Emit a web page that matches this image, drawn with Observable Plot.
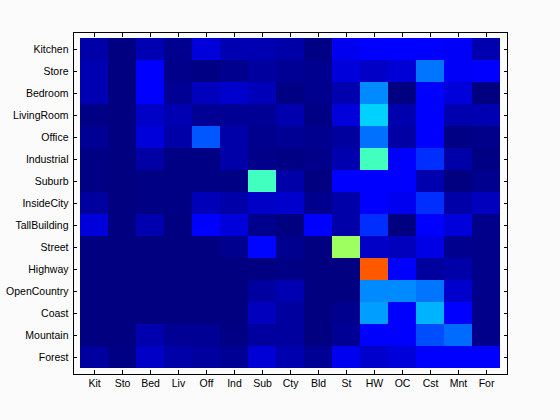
<!DOCTYPE html>
<html>
<head>
<meta charset="utf-8">
<script src="https://cdn.jsdelivr.net/npm/d3@7"></script>
<script src="https://cdn.jsdelivr.net/npm/@observablehq/plot@0.6"></script>
<style>
  html, body { margin: 0; padding: 0; background: #fbfbfb; }
  #chart svg rect { shape-rendering: crispEdges; }
</style>
</head>
<body>
<div id="chart"></div>
<script>
// True classes (rows) and predicted class abbreviations (columns)
const classes = ["Kitchen","Store","Bedroom","LivingRoom","Office","Industrial","Suburb","InsideCity","TallBuilding","Street","Highway","OpenCountry","Coast","Mountain","Forest"];
const abbrevs = ["Kit","Sto","Bed","Liv","Off","Ind","Sub","Cty","Bld","St","HW","OC","Cst","Mnt","For"];

// Confusion values per row
const kitchen     = [0.04,0.00,0.05,0.015,0.09,0.05,0.05,0.04,0.005,0.11,0.125,0.125,0.125,0.12,0.045];
const store       = [0.05,0.00,0.125,0.01,0.005,0.015,0.03,0.02,0.015,0.09,0.07,0.085,0.24,0.12,0.125];
const bedroom     = [0.05,0.00,0.125,0.02,0.06,0.075,0.055,0.005,0.015,0.045,0.26,0.00,0.125,0.09,0.00];
const livingRoom  = [0.005,0.00,0.07,0.05,0.02,0.02,0.02,0.045,0.005,0.09,0.33,0.045,0.125,0.045,0.05];
const office      = [0.02,0.00,0.09,0.04,0.21,0.04,0.015,0.02,0.015,0.03,0.235,0.035,0.125,0.005,0.01];
const industrial  = [0.005,0.00,0.035,0.005,0.005,0.04,0.01,0.005,0.01,0.045,0.4375,0.125,0.17,0.04,0.005];
const suburb      = [0.005,0.00,0.005,0.005,0.005,0.005,0.4375,0.04,0.00,0.125,0.125,0.125,0.045,0.00,0.015];
const insideCity  = [0.03,0.00,0.005,0.005,0.055,0.04,0.07,0.075,0.015,0.04,0.125,0.11,0.17,0.04,0.06];
const tallBuilding= [0.09,0.00,0.045,0.00,0.125,0.09,0.015,0.00,0.125,0.04,0.17,0.00,0.125,0.09,0.01];
const street      = [0.00,0.00,0.00,0.00,0.00,0.015,0.13,0.015,0.00,0.53,0.07,0.06,0.10,0.015,0.01];
const highway     = [0.00,0.00,0.00,0.00,0.00,0.00,0.00,0.005,0.00,0.00,0.7875,0.125,0.03,0.04,0.01];
const openCountry = [0.00,0.00,0.00,0.00,0.00,0.00,0.03,0.05,0.00,0.00,0.26,0.26,0.24,0.075,0.01];
const coast       = [0.00,0.00,0.00,0.00,0.00,0.00,0.06,0.03,0.00,0.015,0.28,0.125,0.30,0.125,0.01];
const mountain    = [0.00,0.00,0.045,0.02,0.02,0.005,0.03,0.03,0.00,0.02,0.125,0.125,0.20,0.23,0.01];
const forest      = [0.03,0.005,0.07,0.04,0.03,0.02,0.085,0.045,0.02,0.11,0.075,0.09,0.125,0.125,0.125];

const rows = [kitchen,store,bedroom,livingRoom,office,industrial,suburb,insideCity,tallBuilding,street,highway,openCountry,coast,mountain,forest];

// Jet colormap stops
const jetDomain = [0, 0.125, 0.375, 0.625, 0.875, 1];
const jetRange = ["#000080","#0000ff","#00ffff","#ffff00","#ff0000","#800000"];

const cells = [];
rows.forEach((r, i) => r.forEach((v, j) => cells.push({row: classes[i], col: abbrevs[j], value: v})));

const font = "'Liberation Sans', Arial, sans-serif";

const chart = Plot.plot({
  width: 560,
  height: 420,
  marginLeft: 73,
  marginRight: 53,
  marginTop: 32,
  marginBottom: 46,
  style: {background: "#fbfbfb", fontFamily: font, fontSize: "10.5px", color: "black"},
  x: {type: "band", domain: abbrevs, padding: 0, label: null},
  y: {type: "band", domain: classes, padding: 0, label: null},
  color: {type: "linear", domain: jetDomain, range: jetRange, interpolate: "rgb", clamp: true},
  marks: [
    Plot.cell(cells, {x: "col", y: "row", fill: "value", inset: 0}),
    Plot.axisX({anchor: "bottom", tickSize: 0, tickPadding: 5, fontSize: 10.5}),
    Plot.axisX({anchor: "bottom", tickSize: 4, text: null, dy: -4, stroke: "black"}),
    Plot.axisX({anchor: "top", tickSize: 4, text: null, dy: 4, stroke: "black"}),
    Plot.axisY({anchor: "left", tickSize: 0, tickPadding: 5, fontSize: 10.5}),
    Plot.axisY({anchor: "left", tickSize: 4, text: null, dx: 4, stroke: "black"}),
    Plot.axisY({anchor: "right", tickSize: 4, text: null, dx: -4, stroke: "black"}),
    Plot.frame({stroke: "black", strokeWidth: 1})
  ]
});
document.getElementById("chart").appendChild(chart);
</script>
</body>
</html>
